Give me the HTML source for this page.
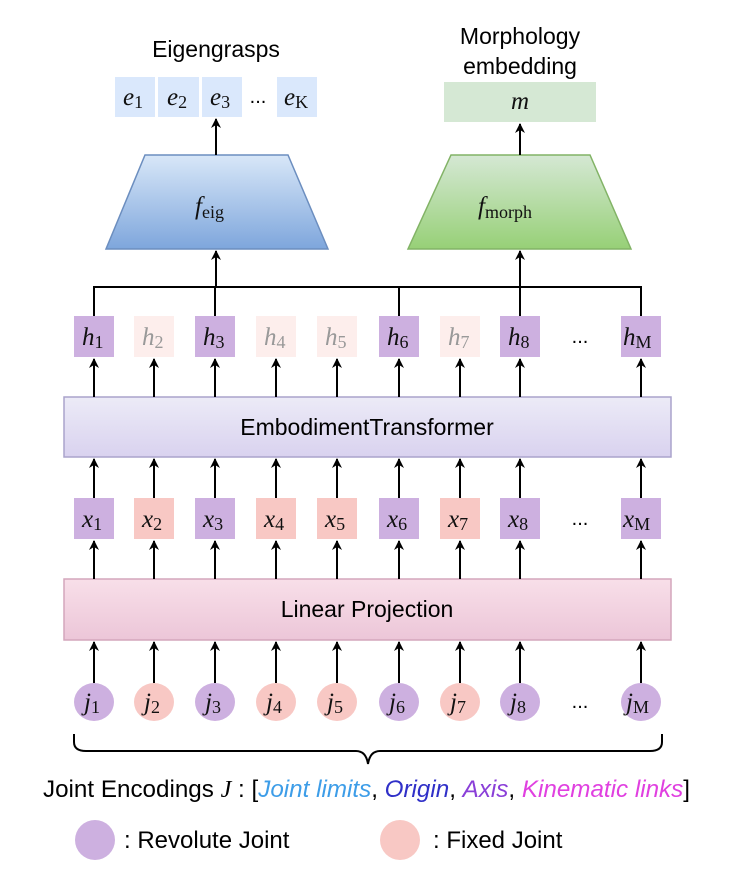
<!DOCTYPE html>
<html><head><meta charset="utf-8"><style>
html,body{margin:0;padding:0;background:#fff;}
svg{display:block;}
.s{font-family:"Liberation Sans",sans-serif;}
.m{font-family:"Liberation Serif",serif;font-style:italic;font-size:25px;fill:#111;}
.sub{font-style:normal;font-size:18px;}
</style></head><body>
<svg width="734" height="879" viewBox="0 0 734 879" xmlns="http://www.w3.org/2000/svg">
<defs>
<marker id="a" markerWidth="10" markerHeight="10" refX="9" refY="5" orient="auto" markerUnits="userSpaceOnUse">
<path d="M0,0 L10,5 L0,10 L3,5 z" fill="#000"/></marker>
<linearGradient id="gb" x1="0" y1="0" x2="0" y2="1"><stop offset="0" stop-color="#d8e7f8"/><stop offset="1" stop-color="#7ea6dc"/></linearGradient>
<linearGradient id="gg" x1="0" y1="0" x2="0" y2="1"><stop offset="0" stop-color="#d5e8d4"/><stop offset="1" stop-color="#97d077"/></linearGradient>
<linearGradient id="gt" x1="0" y1="0" x2="0" y2="1"><stop offset="0" stop-color="#ecebf7"/><stop offset="1" stop-color="#d9d2ef"/></linearGradient>
<linearGradient id="gl" x1="0" y1="0" x2="0" y2="1"><stop offset="0" stop-color="#f8dfe9"/><stop offset="1" stop-color="#ecc6d8"/></linearGradient>
</defs>

<text class="s" x="216" y="57" font-size="23" text-anchor="middle">Eigengrasps</text>
<text class="s" x="520" y="44" font-size="23" text-anchor="middle">Morphology</text>
<text class="s" x="520" y="74" font-size="23" text-anchor="middle">embedding</text>

<rect x="115" y="77" width="40" height="40" fill="#dae8fc"/>
<rect x="158" y="77" width="41" height="40" fill="#dae8fc"/>
<rect x="202" y="77" width="40" height="40" fill="#dae8fc"/>
<rect x="277" y="77" width="40" height="40" fill="#dae8fc"/>
<text class="m" x="123" y="105">e<tspan class="sub" dy="3">1</tspan></text>
<text class="m" x="167" y="105">e<tspan class="sub" dy="3">2</tspan></text>
<text class="m" x="210" y="105">e<tspan class="sub" dy="3">3</tspan></text>
<text class="s" x="258" y="103" font-size="20" text-anchor="middle">...</text>
<text class="m" x="284" y="105">e<tspan class="sub" dy="3" font-size="16">K</tspan></text>

<rect x="444" y="82" width="152" height="40" fill="#d5e8d4"/>
<text class="m" x="520" y="109" text-anchor="middle">m</text>

<polygon points="145,155 288,155 328,249 106,249" fill="url(#gb)" stroke="#6c8ebf" stroke-width="1.5"/>
<text class="m" x="195" y="214" font-size="27">f<tspan class="sub" dy="4" font-size="20">eig</tspan></text>
<polygon points="451,155 590,155 631,249 408,249" fill="url(#gg)" stroke="#82b366" stroke-width="1.5"/>
<text class="m" x="478" y="214" font-size="27">f<tspan class="sub" dy="4" font-size="20">morph</tspan></text>

<g stroke="#000" stroke-width="2" fill="none">
<line x1="216" y1="155" x2="216" y2="119" marker-end="url(#a)"/>
<line x1="520" y1="155" x2="520" y2="124" marker-end="url(#a)"/>
<line x1="216" y1="287" x2="216" y2="251" marker-end="url(#a)"/>
<line x1="520" y1="287" x2="520" y2="251" marker-end="url(#a)"/>
<polyline points="94,316 94,287 641,287 641,316"/>
<line x1="215" y1="287" x2="215" y2="316"/>
<line x1="399" y1="287" x2="399" y2="316"/>
<line x1="520" y1="287" x2="520" y2="316"/>
</g>

<g>
<rect x="74" y="316" width="40" height="41" fill="#cdb0e0"/>
<rect x="134" y="316" width="40" height="41" fill="#fdeeec"/>
<rect x="195" y="316" width="40" height="41" fill="#cdb0e0"/>
<rect x="256" y="316" width="40" height="41" fill="#fdeeec"/>
<rect x="317" y="316" width="40" height="41" fill="#fdeeec"/>
<rect x="379" y="316" width="40" height="41" fill="#cdb0e0"/>
<rect x="440" y="316" width="40" height="41" fill="#fdeeec"/>
<rect x="500" y="316" width="40" height="41" fill="#cdb0e0"/>
<rect x="621" y="316" width="40" height="41" fill="#cdb0e0"/>
</g>
<g class="m">
<text x="82" y="345">h<tspan class="sub" dy="3">1</tspan></text>
<text x="142" y="345" fill="#999">h<tspan class="sub" dy="3">2</tspan></text>
<text x="203" y="345">h<tspan class="sub" dy="3">3</tspan></text>
<text x="264" y="345" fill="#999">h<tspan class="sub" dy="3">4</tspan></text>
<text x="325" y="345" fill="#999">h<tspan class="sub" dy="3">5</tspan></text>
<text x="387" y="345">h<tspan class="sub" dy="3">6</tspan></text>
<text x="448" y="345" fill="#999">h<tspan class="sub" dy="3">7</tspan></text>
<text x="508" y="345">h<tspan class="sub" dy="3">8</tspan></text>
<text x="623" y="345">h<tspan class="sub" dy="3" font-size="16">M</tspan></text>
</g>
<text class="s" x="580" y="343" font-size="20" text-anchor="middle">...</text>

<rect x="64" y="397" width="607" height="60" fill="url(#gt)" stroke="#aaa3cc" stroke-width="1.5"/>
<text class="s" x="367" y="435" font-size="23" text-anchor="middle">EmbodimentTransformer</text>

<g>
<rect x="74" y="498" width="40" height="41" fill="#cdb0e0"/>
<rect x="134" y="498" width="40" height="41" fill="#f8c8c4"/>
<rect x="195" y="498" width="40" height="41" fill="#cdb0e0"/>
<rect x="256" y="498" width="40" height="41" fill="#f8c8c4"/>
<rect x="317" y="498" width="40" height="41" fill="#f8c8c4"/>
<rect x="379" y="498" width="40" height="41" fill="#cdb0e0"/>
<rect x="440" y="498" width="40" height="41" fill="#f8c8c4"/>
<rect x="500" y="498" width="40" height="41" fill="#cdb0e0"/>
<rect x="621" y="498" width="40" height="41" fill="#cdb0e0"/>
</g>
<g class="m">
<text x="82" y="527">x<tspan class="sub" dy="3">1</tspan></text>
<text x="142" y="527">x<tspan class="sub" dy="3">2</tspan></text>
<text x="203" y="527">x<tspan class="sub" dy="3">3</tspan></text>
<text x="264" y="527">x<tspan class="sub" dy="3">4</tspan></text>
<text x="325" y="527">x<tspan class="sub" dy="3">5</tspan></text>
<text x="387" y="527">x<tspan class="sub" dy="3">6</tspan></text>
<text x="448" y="527">x<tspan class="sub" dy="3">7</tspan></text>
<text x="508" y="527">x<tspan class="sub" dy="3">8</tspan></text>
<text x="623" y="527">x<tspan class="sub" dy="3" font-size="16">M</tspan></text>
</g>
<text class="s" x="580" y="525" font-size="20" text-anchor="middle">...</text>

<rect x="64" y="579" width="607" height="61" fill="url(#gl)" stroke="#d4a6bc" stroke-width="1.5"/>
<text class="s" x="367" y="617" font-size="23" text-anchor="middle">Linear Projection</text>

<g>
<ellipse cx="94" cy="702" rx="20" ry="19" fill="#cdb0e0"/>
<ellipse cx="154" cy="702" rx="20" ry="19" fill="#f8c8c4"/>
<ellipse cx="215" cy="702" rx="20" ry="19" fill="#cdb0e0"/>
<ellipse cx="276" cy="702" rx="20" ry="19" fill="#f8c8c4"/>
<ellipse cx="337" cy="702" rx="20" ry="19" fill="#f8c8c4"/>
<ellipse cx="399" cy="702" rx="20" ry="19" fill="#cdb0e0"/>
<ellipse cx="460" cy="702" rx="20" ry="19" fill="#f8c8c4"/>
<ellipse cx="520" cy="702" rx="20" ry="19" fill="#cdb0e0"/>
<ellipse cx="641" cy="702" rx="20" ry="19" fill="#cdb0e0"/>
</g>
<g class="m">
<text x="84" y="710">j<tspan class="sub" dy="3">1</tspan></text>
<text x="144" y="710">j<tspan class="sub" dy="3">2</tspan></text>
<text x="205" y="710">j<tspan class="sub" dy="3">3</tspan></text>
<text x="266" y="710">j<tspan class="sub" dy="3">4</tspan></text>
<text x="327" y="710">j<tspan class="sub" dy="3">5</tspan></text>
<text x="389" y="710">j<tspan class="sub" dy="3">6</tspan></text>
<text x="450" y="710">j<tspan class="sub" dy="3">7</tspan></text>
<text x="510" y="710">j<tspan class="sub" dy="3">8</tspan></text>
<text x="626" y="710">j<tspan class="sub" dy="3" font-size="16">M</tspan></text>
</g>
<text class="s" x="580" y="708" font-size="20" text-anchor="middle">...</text>

<g stroke="#000" stroke-width="2" fill="none" marker-end="url(#a)">
<line x1="94" y1="397" x2="94" y2="359"/><line x1="154" y1="397" x2="154" y2="359"/><line x1="215" y1="397" x2="215" y2="359"/><line x1="276" y1="397" x2="276" y2="359"/><line x1="337" y1="397" x2="337" y2="359"/><line x1="399" y1="397" x2="399" y2="359"/><line x1="460" y1="397" x2="460" y2="359"/><line x1="520" y1="397" x2="520" y2="359"/><line x1="641" y1="397" x2="641" y2="359"/>
<line x1="94" y1="498" x2="94" y2="459"/><line x1="154" y1="498" x2="154" y2="459"/><line x1="215" y1="498" x2="215" y2="459"/><line x1="276" y1="498" x2="276" y2="459"/><line x1="337" y1="498" x2="337" y2="459"/><line x1="399" y1="498" x2="399" y2="459"/><line x1="460" y1="498" x2="460" y2="459"/><line x1="520" y1="498" x2="520" y2="459"/><line x1="641" y1="498" x2="641" y2="459"/>
<line x1="94" y1="579" x2="94" y2="541"/><line x1="154" y1="579" x2="154" y2="541"/><line x1="215" y1="579" x2="215" y2="541"/><line x1="276" y1="579" x2="276" y2="541"/><line x1="337" y1="579" x2="337" y2="541"/><line x1="399" y1="579" x2="399" y2="541"/><line x1="460" y1="579" x2="460" y2="541"/><line x1="520" y1="579" x2="520" y2="541"/><line x1="641" y1="579" x2="641" y2="541"/>
<line x1="94" y1="683" x2="94" y2="642"/><line x1="154" y1="683" x2="154" y2="642"/><line x1="215" y1="683" x2="215" y2="642"/><line x1="276" y1="683" x2="276" y2="642"/><line x1="337" y1="683" x2="337" y2="642"/><line x1="399" y1="683" x2="399" y2="642"/><line x1="460" y1="683" x2="460" y2="642"/><line x1="520" y1="683" x2="520" y2="642"/><line x1="641" y1="683" x2="641" y2="642"/>
</g>

<path d="M74,734 L74,742 Q74,751 86,751 L356,751 Q366,751 368,764 Q370,751 380,751 L650,751 Q662,751 662,742 L662,734" stroke="#000" stroke-width="2" fill="none"/>

<text class="s" x="43" y="797" font-size="24" textLength="647" lengthAdjust="spacingAndGlyphs">Joint Encodings <tspan font-family="Liberation Serif" font-style="italic">J</tspan> : [<tspan fill="#3d9de8" font-style="italic">Joint limits</tspan>, <tspan fill="#3030c8" font-style="italic">Origin</tspan>, <tspan fill="#8a3fd8" font-style="italic">Axis</tspan>, <tspan fill="#e040e0" font-style="italic">Kinematic links</tspan>]</text>

<ellipse cx="95" cy="840" rx="20" ry="20" fill="#cdb0e0"/>
<text class="s" x="124" y="848" font-size="24">: Revolute Joint</text>
<ellipse cx="400" cy="840" rx="20" ry="20" fill="#f8c8c4"/>
<text class="s" x="433" y="848" font-size="24">: Fixed Joint</text>
</svg>
</body></html>
